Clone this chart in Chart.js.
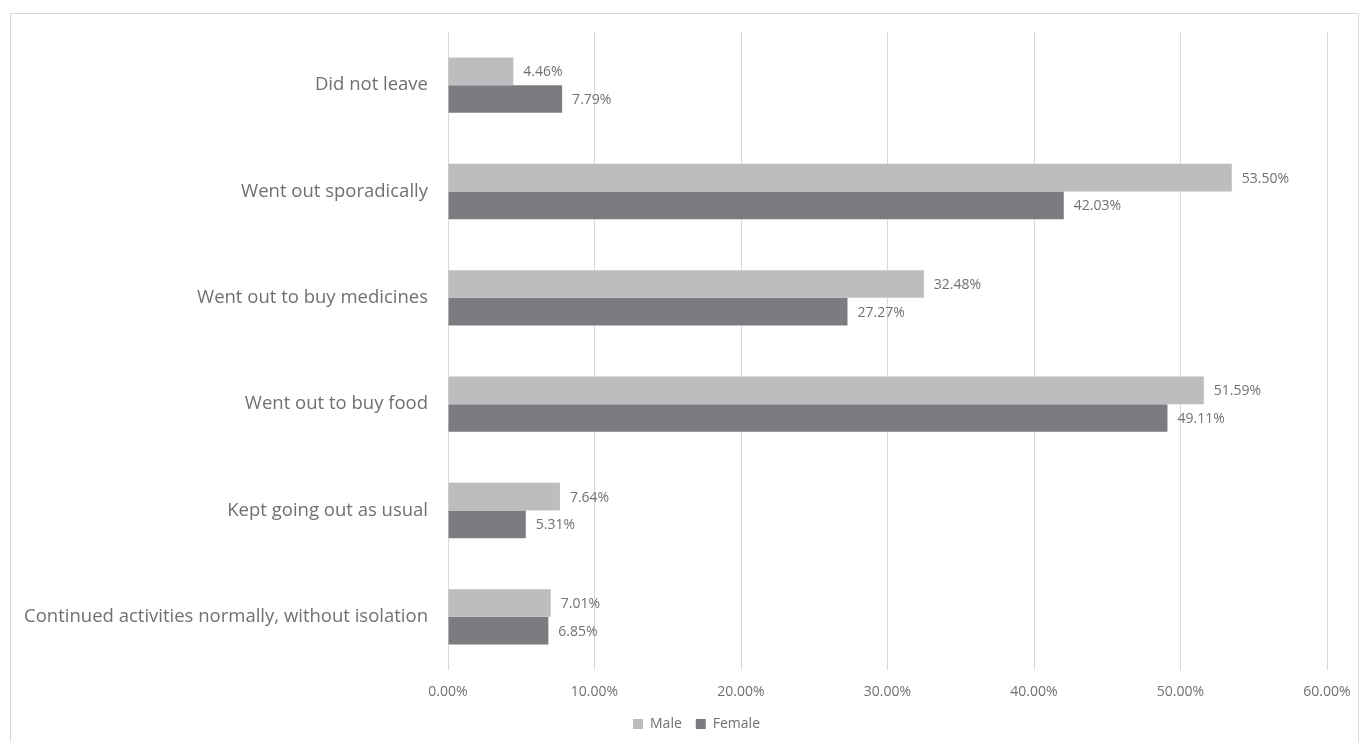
<!DOCTYPE html>
<html>
<head>
<meta charset="utf-8">
<script src="https://cdn.jsdelivr.net/npm/chart.js@4"></script>
<style>
  html, body { margin: 0; padding: 0; background: #fff; }
  #frame { position: absolute; left: 10px; top: 13px; width: 1349px; height: 740px; border: 1px solid #d9d9d9; box-sizing: border-box; }
  #wrap { position: absolute; left: 0; top: 0; width: 1360px; height: 742px; }
</style>
</head>
<body>
<div id="frame"></div>
<div id="wrap"><canvas id="chart"></canvas></div>
<script>
// === Data ===
const categories = [
  'Did not leave',
  'Went out sporadically',
  'Went out to buy medicines',
  'Went out to buy food',
  'Kept going out as usual',
  'Continued activities normally, without isolation'
];
const maleValues = [4.46, 53.50, 32.48, 51.59, 7.64, 7.01];
const femaleValues = [7.79, 42.03, 27.27, 49.11, 5.31, 6.85];
const xTicks = [0, 10, 20, 30, 40, 50, 60];

const textColor = '#707070';

// draw the value next to each bar end
const valueLabels = {
  id: 'valueLabels',
  afterDatasetsDraw(chart) {
    const ctx = chart.ctx;
    ctx.save();
    ctx.font = '14px "Open Sans"';
    ctx.fillStyle = textColor;
    ctx.textBaseline = 'middle';
    ctx.textAlign = 'left';
    chart.data.datasets.forEach((ds, i) => {
      chart.getDatasetMeta(i).data.forEach((bar, j) => {
        ctx.fillText(ds.data[j].toFixed(2) + '%', bar.x + 10, bar.y + 1);
      });
    });
    ctx.restore();
  }
};

// nudge the legend a bit to the right, like the original
const legendShift = {
  id: 'legendShift',
  afterLayout(chart) {
    chart.legend.left += 33;
    chart.legend.right += 33;
  }
};

new Chart(document.getElementById('chart'), {
  type: 'bar',
  data: {
    labels: categories,
    datasets: [
      { label: 'Male', data: maleValues, backgroundColor: '#bdbdc0', categoryPercentage: 0.52, barPercentage: 1 },
      { label: 'Female', data: femaleValues, backgroundColor: '#7c7c80', categoryPercentage: 0.52, barPercentage: 1 }
    ]
  },
  options: {
    indexAxis: 'y',
    responsive: true,
    maintainAspectRatio: false,
    animation: false,
    layout: { padding: { left: 0, right: 33, top: 32, bottom: 1 } },
    plugins: {
      legend: {
        position: 'bottom',
        labels: { boxWidth: 10, boxHeight: 10, padding: 14, color: textColor, font: { family: 'Open Sans', size: 14 } }
      },
      tooltip: { enabled: false }
    },
    scales: {
      x: {
        min: 0,
        max: 60,
        afterBuildTicks: scale => { scale.ticks = xTicks.map(v => ({ value: v })); },
        afterFit: scale => { scale.height = 33; scale.paddingLeft = 0; scale.paddingRight = 0; },
        grid: { color: '#d9d9d9', drawTicks: false },
        border: { display: false },
        ticks: {
          padding: 14,
          color: textColor,
          font: { family: 'Open Sans', size: 14 },
          callback: v => v.toFixed(2) + '%'
        }
      },
      y: {
        afterFit: scale => { scale.width = 448; },
        grid: { display: false },
        border: { display: false },
        ticks: {
          padding: 12,
          color: textColor,
          font: { family: 'Open Sans', size: 18.5 }
        }
      }
    }
  },
  plugins: [valueLabels, legendShift]
});
</script>
</body>
</html>
